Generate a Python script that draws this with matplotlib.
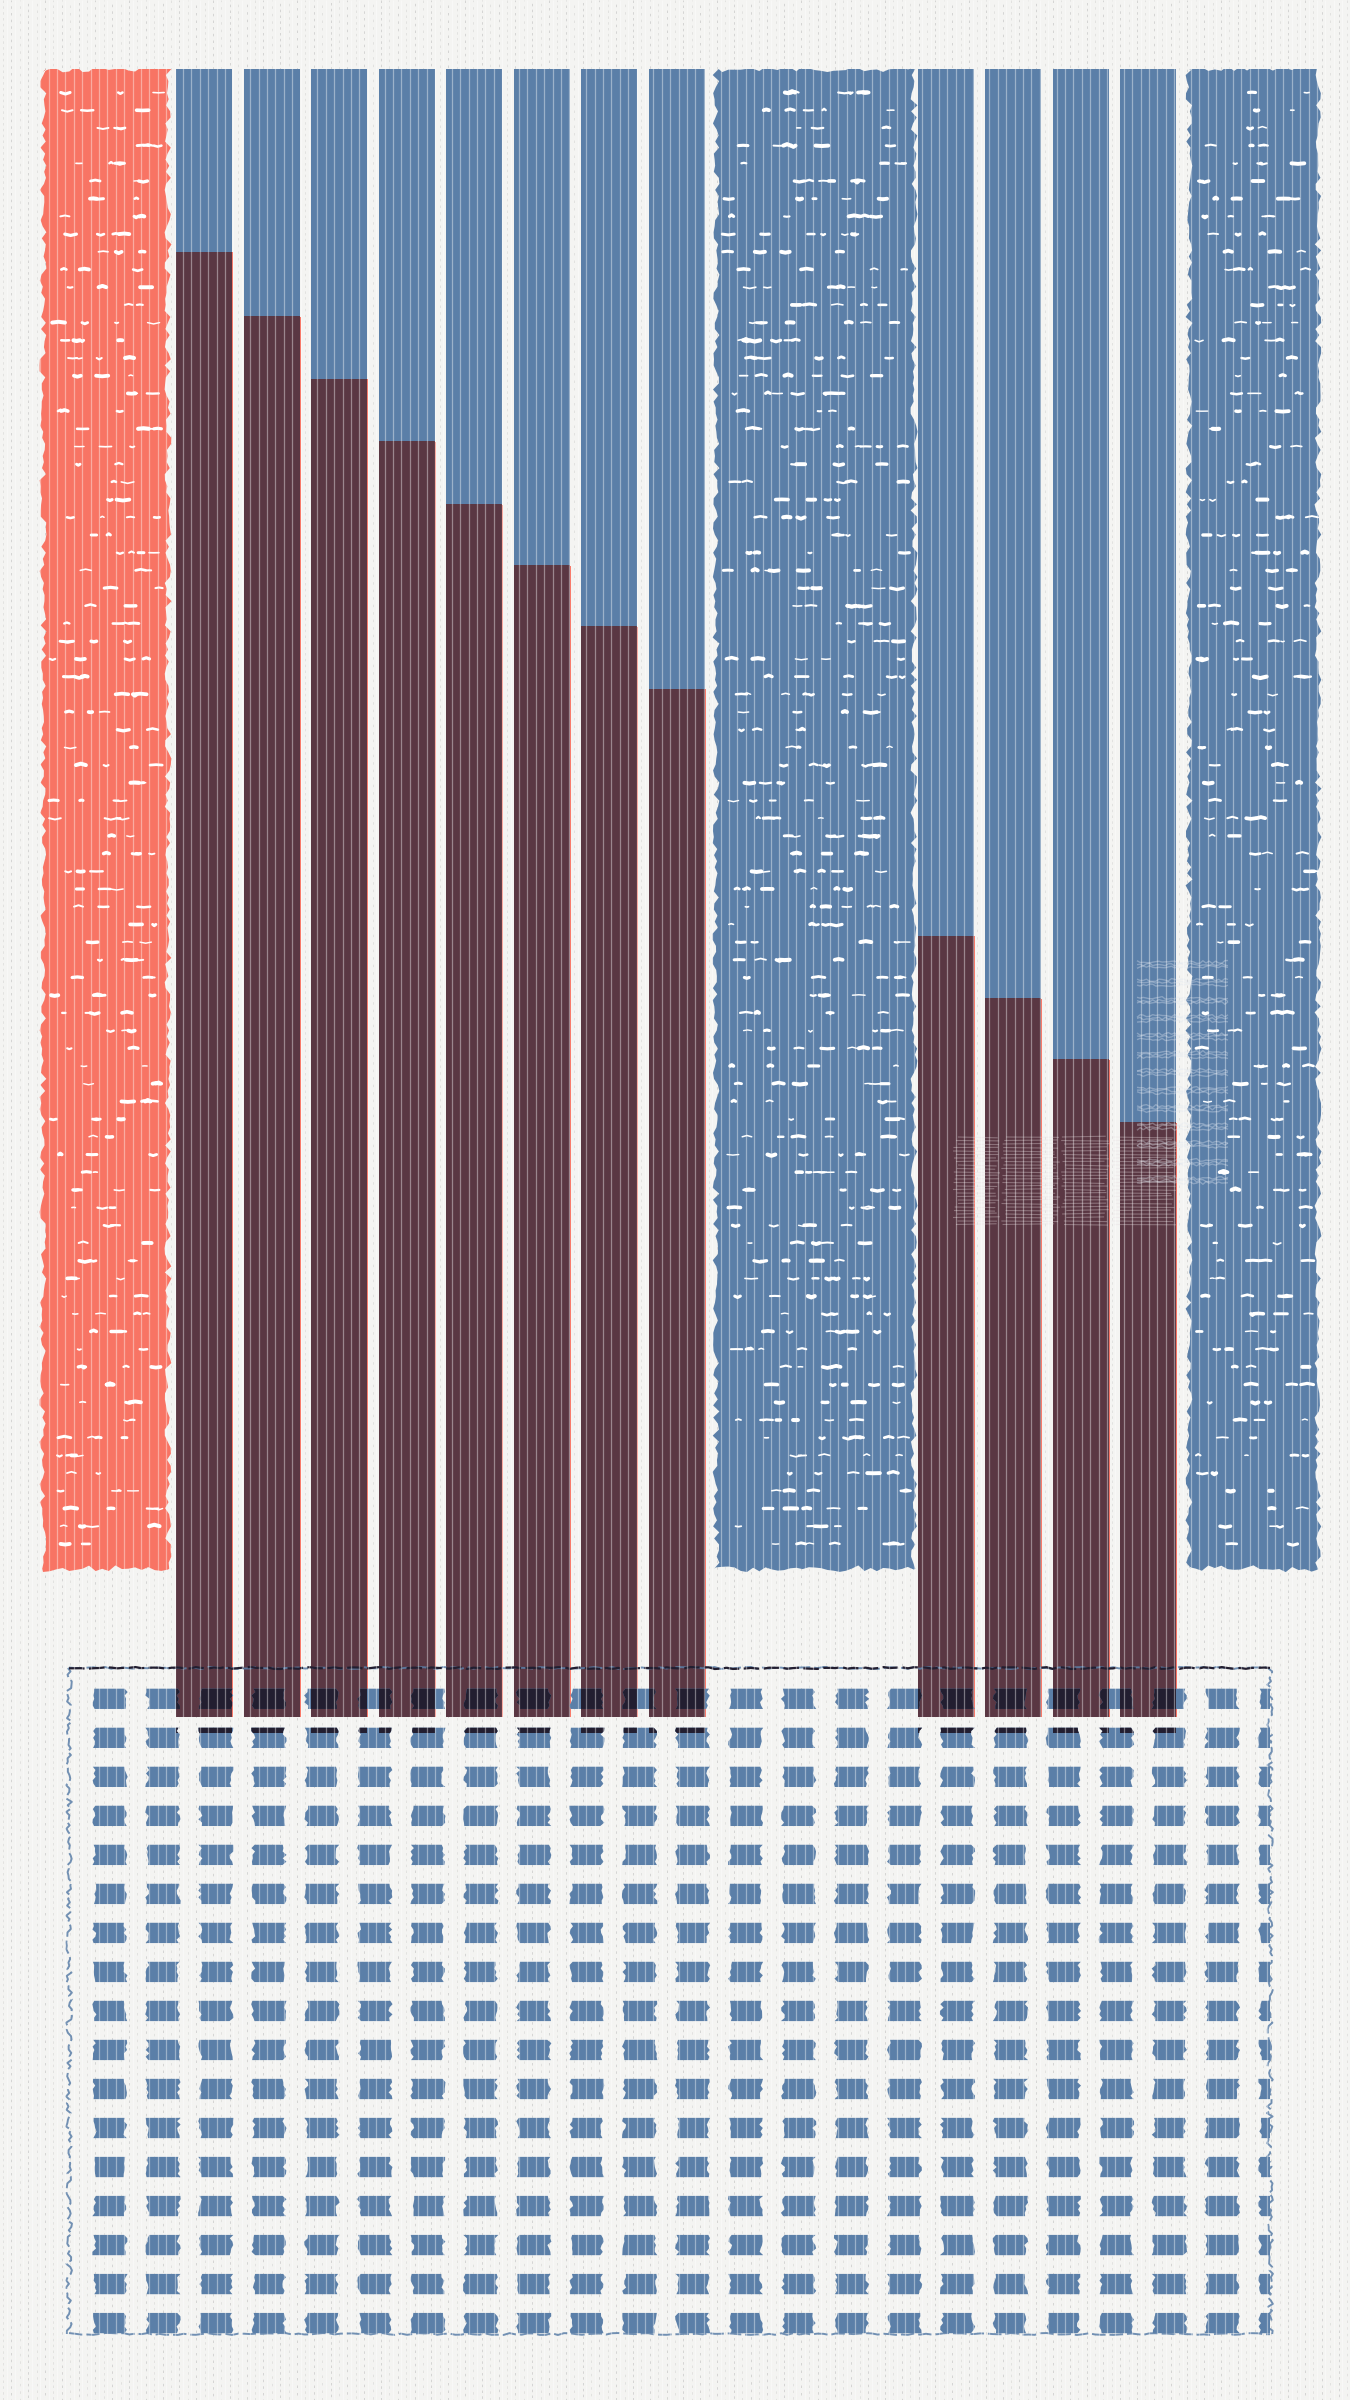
import numpy as np
import matplotlib.pyplot as plt
from matplotlib.collections import LineCollection, PatchCollection
from matplotlib.patches import Polygon
from matplotlib.path import Path

BG = '#f4f4f2'
RED = '#f87464'
BLUE = '#5b7fa8'
DARK = '#5a3743'
NAVY = '#221e30'

# values (0-100 scale of the bar area)
left_values = [88.9, 85.0, 81.2, 77.4, 73.6, 69.9, 66.2, 62.4]
right_values = [47.4, 43.6, 39.9, 36.1]
block_colors = [RED, BLUE, BLUE]
block_bottom = [9.0, 9.0, 9.0]
block_top = [100.0, 100.0, 100.0]
grid_rows = 17
grid_cols = 23

rng = np.random.default_rng(11)  # texture only

W, H = 1350, 2400
fig = plt.figure(figsize=(13.5, 24), dpi=100, facecolor=BG)

# --- background dashes
axbg = fig.add_axes([0, 0, 1, 1], zorder=0)
axbg.set_xlim(0, W); axbg.set_ylim(H, 0); axbg.axis('off')
for i, x in enumerate(np.arange(3, W, 8.4)):
    axbg.vlines(x, 0, H, color='#8d8d8d', lw=0.6, alpha=0.35 if i % 2 else 0.2,
                linestyles=(i % 5, (3, 4 + i % 3)))

# --- bars
bar_top_px, bar_bot_px = 69, 1717
ax = fig.add_axes([0, (H - bar_bot_px) / H, 1, (bar_bot_px - bar_top_px) / H], zorder=1)
ax.set_xlim(0, W); ax.set_ylim(0, 100); ax.axis('off')
ax.patch.set_alpha(0)
unit = (bar_bot_px - bar_top_px) / 100.0  # px per value unit

bw = 56
left_x = [176 + bw / 2 + 67.5 * i for i in range(len(left_values))]
right_x = [918 + bw / 2 + 67.3 * i for i in range(len(right_values))]
xs = left_x + right_x
vals = left_values + right_values

# thin red fringe under dark bars
ax.bar([x + 1 for x in xs], [v + 0.05 for v in vals], bottom=-0.08, width=bw, color=RED, lw=0)
ax.bar(xs, vals, width=bw, color=DARK, lw=0)
ax.bar(xs, [100 - v for v in vals], bottom=vals, width=bw, color=BLUE, lw=0)

# wide rough blocks
block_left = [43, 716, 1189]
block_w = [125, 198, 129]


def rough_rect(x0, x1, y0, y1, jx, jy, step_px=6):
    nx = max(int((x1 - x0) / step_px), 2)
    ny = max(int((y1 - y0) * unit / step_px), 2)
    top = [(x, y1 + rng.uniform(-jy, jy)) for x in np.linspace(x0, x1, nx)]
    right = [(x1 + rng.uniform(-jx, jx), y) for y in np.linspace(y1, y0, ny)]
    bot = [(x, y0 + rng.uniform(-jy, jy)) for x in np.linspace(x1, x0, nx)]
    left = [(x0 + rng.uniform(-jx, jx), y) for y in np.linspace(y0, y1, ny)]
    return top + right + bot + left


for c, b, t, x0, w in zip(block_colors, block_bottom, block_top, block_left, block_w):
    ax.add_patch(Polygon(rough_rect(x0, x0 + w, b, t, 3.5, 3.5 / unit), closed=True,
                         color=c, lw=0))
    segs, lws = [], []
    row_step = 17.7 / unit
    for yy in np.arange(b + 1.4 * row_step, t - 0.9 * row_step, row_step):
        n = rng.integers(int(w / 45), int(w / 26) + 1)
        for xx in rng.uniform(x0 + 6, x0 + w - 12, n):
            L = rng.uniform(3, 13)
            hy = rng.uniform(-1.5, 1.5) / unit
            segs.append([(xx, yy), (xx + L / 2, yy + hy), (xx + L, yy)])
            lws.append(rng.uniform(1.0, 3.0))
    ax.add_collection(LineCollection(segs, colors='white', linewidths=lws, capstyle='round'))

# faint ghost streaks (texture)
gsegs = []
for yy in np.arange(1137, 1228, 3.5):
    for x0g, x1g in [(952, 1000), (1001, 1060), (1061, 1110), (1111, 1177)]:
        xa = x0g + rng.uniform(0, 6)
        gsegs.append([(xa, (bar_bot_px - yy) / unit),
                      (x1g - rng.uniform(0, 6), (bar_bot_px - yy + rng.uniform(-1, 1)) / unit)])
ax.add_collection(LineCollection(gsegs, colors='#e8dde0', linewidths=0.8, alpha=0.35))
gsegs = []
for yy in np.arange(962, 1180, 18):
    for k in range(3):
        xs_ = np.linspace(1137, 1228, 30)
        ys_ = (bar_bot_px - yy - k * 2.5 - rng.uniform(-1.5, 1.5, xs_.size)) / unit
        gsegs.append(np.column_stack([xs_, ys_]))
ax.add_collection(LineCollection(gsegs, colors='#dfe6f0', linewidths=1.0, alpha=0.35))

# --- grid of squares
gx0, gx1, gy0, gy1 = 69, 1270, 1668, 2334
axg = fig.add_axes([gx0 / W, (H - gy1) / H, (gx1 - gx0) / W, (gy1 - gy0) / H], zorder=2)
axg.set_xlim(-0.774, 21.9); axg.set_ylim(16.28, -0.79); axg.axis('off')
axg.patch.set_alpha(0)

sq = []
for r in range(grid_rows):
    for c in range(grid_cols):
        hw, hh = 0.285, 0.26
        pts = []
        ny = 7
        for y in np.linspace(r - hh, r + hh, ny):
            pts.append((c - hw + rng.uniform(-0.05, 0.03), y))
        for y in np.linspace(r + hh, r - hh, ny):
            pts.append((c + hw + rng.uniform(-0.03, 0.05), y))
        sq.append(pts)
axg.add_collection(PatchCollection([Polygon(p) for p in sq], facecolor=BLUE, lw=0))

# darker where squares sit under the dark bars
verts, codes = [], []
for x, v in zip(xs, vals):
    verts += [(x - bw / 2, -1), (x + bw / 2, -1), (x + bw / 2, v), (x - bw / 2, v), (0, 0)]
    codes += [Path.MOVETO, Path.LINETO, Path.LINETO, Path.LINETO, Path.CLOSEPOLY]
dark_path = Path(verts, codes)
navy = PatchCollection([Polygon(p) for p in sq], facecolor=NAVY, lw=0)
axg.add_collection(navy)
navy.set_clip_path(dark_path, ax.transData)

# rough frame
t = np.linspace(0, 1, 200)
for xline, yline in [(t, 1 + rng.uniform(-0.0015, 0.0015, t.size)),
                     (rng.uniform(-0.0025, 0.0025, t.size), t),
                     (1 + rng.uniform(-0.0025, 0.0025, t.size), t),
                     (t, rng.uniform(-0.0015, 0.0015, t.size))]:
    axg.plot(xline, yline, transform=axg.transAxes, color=BLUE, lw=1.4,
             ls=(0, (7, 2)), clip_on=False, alpha=0.85)
ln, = axg.plot(t, 1 + rng.uniform(-0.0015, 0.0015, t.size), transform=axg.transAxes,
               color=NAVY, lw=1.6, ls=(0, (7, 2)), clip_on=False)
ln.set_clip_path(dark_path, ax.transData)

# --- thin white stripes over everything
axo = fig.add_axes([0, 0, 1, 1], zorder=10)
axo.set_xlim(0, W); axo.set_ylim(H, 0); axo.axis('off')
axo.patch.set_alpha(0)
axo.vlines(np.arange(6.5, W, 8.4), 0, H, color='white', lw=0.9, alpha=0.4)

fig.savefig('out.png', dpi=100, facecolor=BG)
